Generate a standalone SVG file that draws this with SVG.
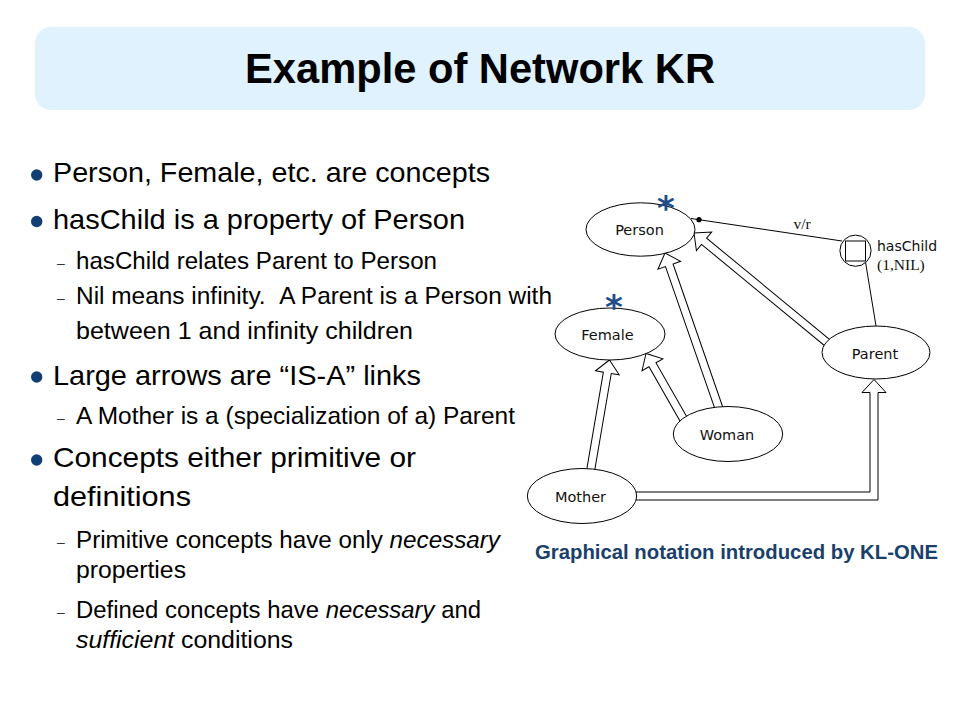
<svg xmlns="http://www.w3.org/2000/svg" width="960" height="720" viewBox="0 0 960 720">
  <style>
    .title { font-family: "Liberation Sans", Arial, sans-serif; font-weight: bold; font-size: 43px; fill: #000; }
    .main { font-family: "Liberation Sans", Arial, sans-serif; font-size: 28.5px; fill: #000; }
    .sub { font-family: "Liberation Sans", Arial, sans-serif; font-size: 24.2px; fill: #000; }
    .dash { font-family: "Liberation Sans", Arial, sans-serif; font-size: 14px; fill: #333; }
    .bullet { fill: #123f73; }
    .node { fill: #fff; stroke: #000; stroke-width: 1; }
    .lbl { font-family: "DejaVu Sans", Verdana, sans-serif; font-size: 14.5px; fill: #111; text-anchor: middle; }
    .serif { font-family: "Liberation Serif", "Times New Roman", serif; font-size: 15.5px; fill: #111; }
    .star { font-family: "DejaVu Sans", sans-serif; font-weight: bold; font-size: 34px; fill: #1f4e88; text-anchor: middle; }
    .isa { fill: #fff; stroke: #000; stroke-width: 1; stroke-linejoin: miter; }
    .rel { fill: none; stroke: #000; stroke-width: 1; }
    .caption { font-family: "Liberation Sans", Arial, sans-serif; font-weight: bold; font-size: 20.3px; fill: #1b3f6b; }
  </style>

  <!-- Title -->
  <g id="title">
    <rect x="35" y="27" width="890" height="83" rx="16" ry="16" fill="#dff2fd"/>
    <text class="title" x="480" y="83" text-anchor="middle" textLength="470" lengthAdjust="spacingAndGlyphs">Example of Network KR</text>
  </g>

  <!-- Bullet text -->
  <g id="bullets">
    <circle class="bullet" cx="36.7" cy="175" r="5.7"/>
    <text class="main" x="53" y="182" textLength="437" lengthAdjust="spacingAndGlyphs">Person, Female, etc. are concepts</text>

    <circle class="bullet" cx="36.7" cy="221.5" r="5.7"/>
    <text class="main" x="53" y="228.5" textLength="412" lengthAdjust="spacingAndGlyphs">hasChild is a property of Person</text>

    <text class="dash" x="57" y="268">–</text>
    <text class="sub" x="76" y="268.5" textLength="361" lengthAdjust="spacingAndGlyphs">hasChild relates Parent to Person</text>

    <text class="dash" x="57" y="303">–</text>
    <text class="sub" x="76" y="303.5" textLength="476" lengthAdjust="spacingAndGlyphs">Nil means infinity. &#160;A Parent is a Person with</text>
    <text class="sub" x="76" y="338.5" textLength="337" lengthAdjust="spacingAndGlyphs">between 1 and infinity children</text>

    <circle class="bullet" cx="36.7" cy="377" r="5.7"/>
    <text class="main" x="53" y="384.5" textLength="368" lengthAdjust="spacingAndGlyphs">Large arrows are “IS-A” links</text>

    <text class="dash" x="57" y="423">–</text>
    <text class="sub" x="76" y="423.5" textLength="439" lengthAdjust="spacingAndGlyphs">A Mother is a (specialization of a) Parent</text>

    <circle class="bullet" cx="36.7" cy="460" r="5.7"/>
    <text class="main" x="53" y="467" textLength="363" lengthAdjust="spacingAndGlyphs">Concepts either primitive or</text>
    <text class="main" x="53" y="506" textLength="138" lengthAdjust="spacingAndGlyphs">definitions</text>

    <text class="dash" x="57" y="547">–</text>
    <text class="sub" x="76" y="547.5" textLength="424" lengthAdjust="spacingAndGlyphs">Primitive concepts have only <tspan font-style="italic">necessary</tspan></text>
    <text class="sub" x="76" y="577.5" textLength="110" lengthAdjust="spacingAndGlyphs">properties</text>

    <text class="dash" x="57" y="617">–</text>
    <text class="sub" x="76" y="617.5" textLength="405" lengthAdjust="spacingAndGlyphs">Defined concepts have <tspan font-style="italic">necessary</tspan> and</text>
    <text class="sub" x="76" y="647.5" textLength="217" lengthAdjust="spacingAndGlyphs"><tspan font-style="italic">sufficient</tspan> conditions</text>
  </g>

  <!-- Connectors -->
  <g id="connectors">
    <!-- IS-A: Parent -> Person -->
    <polygon class="isa" transform="translate(694,233) rotate(219.46)" points="0,0 -13,-12 -13,-4 -180,-4 -180,4 -13,4 -13,12"/>
    <!-- IS-A: Woman -> Person -->
    <polygon class="isa" transform="translate(665,253) rotate(250.84)" points="0,0 -13,-12 -13,-4 -175,-4 -175,4 -13,4 -13,12"/>
    <!-- IS-A: Woman -> Female -->
    <polygon class="isa" transform="translate(646,353.5) rotate(240.24)" points="0,0 -13,-12 -13,-4 -87,-4 -87,4 -13,4 -13,12"/>
    <!-- IS-A: Mother -> Female -->
    <polygon class="isa" transform="translate(609.5,360) rotate(279.7)" points="0,0 -13,-12 -13,-4 -122,-4 -122,4 -13,4 -13,12"/>
    <!-- IS-A: Mother -> Parent (elbow) -->
    <polygon class="isa" points="615,500 878,500 878,392.5 886,392.5 874,379.5 862,392.5 870,392.5 870,492 615,492"/>
    <!-- v/r role link to Person -->
    <line class="rel" x1="691" y1="218.5" x2="842" y2="241"/>
    <circle cx="699" cy="219.7" r="2.6" fill="#000"/>
    <text class="serif" x="802" y="229" text-anchor="middle" font-size="17px">v/r</text>
    <!-- role to Parent -->
    <line class="rel" x1="865.5" y1="262" x2="876" y2="326"/>
  </g>

  <!-- Nodes -->
  <g id="person">
    <ellipse class="node" cx="640.5" cy="229.5" rx="54.5" ry="26.7"/>
    <text class="lbl" x="639.5" y="235">Person</text>
    <text class="star" x="666" y="220">*</text>
  </g>
  <g id="female">
    <ellipse class="node" cx="610" cy="334" rx="55" ry="26"/>
    <text class="lbl" x="607.5" y="339.5">Female</text>
    <text class="star" x="614" y="319">*</text>
  </g>
  <g id="parent">
    <ellipse class="node" cx="876" cy="352.5" rx="54" ry="26.5"/>
    <text class="lbl" x="875" y="358.5">Parent</text>
  </g>
  <g id="woman">
    <ellipse class="node" cx="728" cy="434" rx="54.7" ry="27.5"/>
    <text class="lbl" x="727" y="440">Woman</text>
  </g>
  <g id="mother">
    <ellipse class="node" cx="582" cy="496" rx="54.7" ry="27.5"/>
    <text class="lbl" x="580.5" y="502">Mother</text>
  </g>
  <g id="hasChild">
    <circle class="node" cx="855.5" cy="250.7" r="15.6"/>
    <rect x="845.5" y="241" width="20" height="20" fill="none" stroke="#000" stroke-width="1"/>
    <text x="877" y="250.5" font-family="DejaVu Sans, Verdana, sans-serif" font-size="14px" fill="#111">hasChild</text>
    <text class="serif" x="877" y="270">(1,NIL)</text>
  </g>

  <!-- Caption -->
  <g id="caption">
    <text class="caption" x="535" y="558.5" textLength="403" lengthAdjust="spacingAndGlyphs">Graphical notation introduced by KL-ONE</text>
  </g>
</svg>
